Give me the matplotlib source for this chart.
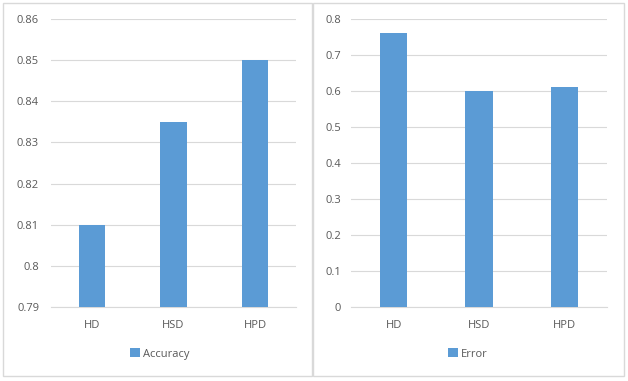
import numpy as np
import matplotlib
matplotlib.use("Agg")
import matplotlib.pyplot as plt
from matplotlib.patches import Rectangle
from matplotlib.ticker import FuncFormatter

# Dati
categories = ["HD", "HSD", "HPD"]
accuracy = [0.81, 0.835, 0.85]
error = [0.76, 0.60, 0.61]
acc_ticks = [0.79, 0.80, 0.81, 0.82, 0.83, 0.84, 0.85, 0.86]
err_ticks = [0.0, 0.1, 0.2, 0.3, 0.4, 0.5, 0.6, 0.7, 0.8]

BAR_COLOR = "#5B9BD5"
GRID_COLOR = "#D9D9D9"
TEXT_COLOR = "#595959"
W, H = 628, 381

plt.rcParams["font.family"] = ["Open Sans", "DejaVu Sans"]
plt.rcParams["font.size"] = 8

fig = plt.figure(figsize=(W / 100, H / 100), dpi=100)
fig.patch.set_facecolor("white")


def px_axes(x0, x1, y_top, y_bottom):
    return fig.add_axes([x0 / W, (H - y_bottom) / H, (x1 - x0) / W, (y_bottom - y_top) / H])


def panel_box(x0, x1, y0, y1):
    fig.patches.append(Rectangle((x0 / W, (H - y1) / H), (x1 - x0) / W, (y1 - y0) / H,
                                 transform=fig.transFigure, fill=False,
                                 edgecolor=GRID_COLOR, linewidth=1.0))


def style_axes(ax, values, ticks, label, ypad, legend_x):
    x = np.arange(len(categories))
    ax.bar(x, values, width=0.32, color=BAR_COLOR, label=label, zorder=3)
    ax.set_xlim(-0.5, len(categories) - 0.5)
    ax.set_ylim(ticks[0], ticks[-1])
    ax.set_yticks(ticks)
    ax.yaxis.set_major_formatter(FuncFormatter(lambda v, p: "%g" % round(v, 3)))
    ax.set_xticks(x)
    ax.set_xticklabels(categories)
    ax.grid(axis="y", color=GRID_COLOR, linewidth=0.8, zorder=0)
    ax.set_axisbelow(True)
    for s in ["top", "left", "right"]:
        ax.spines[s].set_visible(False)
    ax.spines["bottom"].set_color(GRID_COLOR)
    ax.spines["bottom"].set_linewidth(0.8)
    ax.tick_params(axis="both", length=0, colors=TEXT_COLOR, labelsize=8)
    ax.tick_params(axis="y", pad=ypad)
    ax.tick_params(axis="x", pad=9)
    ax.legend(loc="center", bbox_to_anchor=(legend_x, -0.163), frameon=False,
              handlelength=0.9, handleheight=0.9, handletextpad=0.3,
              labelcolor=TEXT_COLOR, fontsize=8)


panel_box(3, 312, 3, 376)
panel_box(313, 624, 3, 376)

ax1 = px_axes(51, 296, 19, 307)
style_axes(ax1, accuracy, acc_ticks, "Accuracy", 8.6, 0.445)

ax2 = px_axes(351, 607, 19, 307)
style_axes(ax2, error, err_ticks, "Error", 7, 0.457)

fig.savefig("out.png", dpi=100)
